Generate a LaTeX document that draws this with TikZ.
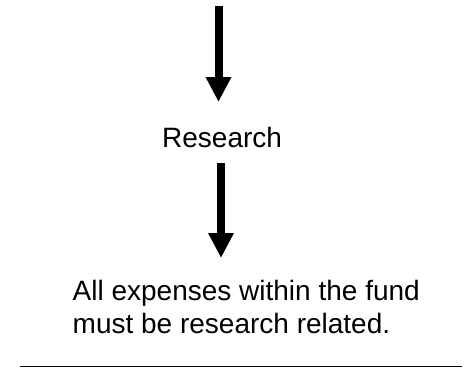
\documentclass[tikz,border=0pt]{standalone}
\usepackage{fontspec}
\setmainfont{Liberation Sans}
\usetikzlibrary{arrows.meta}
\begin{document}
\begin{tikzpicture}[x=1bp,y=-1bp,
  flow/.style={line width=8bp,-{Triangle[width=24bp,length=25bp]}},
  label/.style={inner sep=0pt,font=\fontsize{28bp}{33bp}\selectfont},
  rule/.style={line width=1.3bp}]
\useasboundingbox (0,0) rectangle (466,368);
\coordinate (a1s) at (218.5,6);
\coordinate (a1e) at (218.5,102);
\coordinate (a2s) at (221,163);
\coordinate (a2e) at (221,258);
\node[label,anchor=base west] (research) at (162,147.5) {Research};
\node[label,anchor=base west,align=left] (note) at (72.5,333) {All expenses within the fund\\must be research related.};
\coordinate (r1) at (20,366.5);
\coordinate (r2) at (462,366.5);
\draw[flow] (a1s) -- (a1e);
\draw[flow] (a2s) -- (a2e);
\draw[rule] (r1) -- (r2);
\end{tikzpicture}
\end{document}
